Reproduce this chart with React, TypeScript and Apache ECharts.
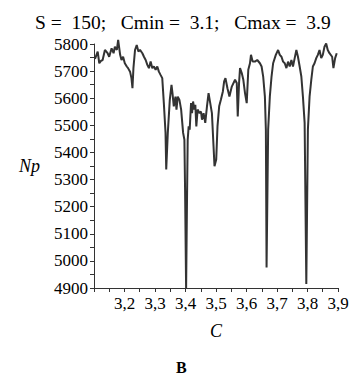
import React, { useEffect, useRef } from "react";
import * as echarts from "echarts";

const titleText = "S =  150;   Cmin =  3.1;   Cmax =  3.9";
const panelLabel = "B";
const xName = "C";
const yName = "Np";

const cValues = [
  3.1033, 3.1121, 3.1173, 3.1228, 3.1283, 3.1358, 3.1446, 3.1498, 3.1577, 3.1642,
  3.1684, 3.1749, 3.1792, 3.1857, 3.1902, 3.1954, 3.201, 3.2075, 3.2117, 3.2182,
  3.2228, 3.2261, 3.2293, 3.2345, 3.2401, 3.2456, 3.2508, 3.2586, 3.2638, 3.2694,
  3.2749, 3.2801, 3.2857, 3.2912, 3.2964, 3.302, 3.3075, 3.3127, 3.3182, 3.3238,
  3.329, 3.3345, 3.3368, 3.342, 3.3485, 3.3541, 3.3573, 3.3616, 3.3671, 3.3704,
  3.3746, 3.3801, 3.3857, 3.3922, 3.3964, 3.3987, 3.402, 3.4052, 3.4072, 3.4104,
  3.4137, 3.4182, 3.4215, 3.4248, 3.429, 3.4322, 3.4355, 3.4397, 3.4463, 3.4508,
  3.4541, 3.4593, 3.4648, 3.4704, 3.4756, 3.4811, 3.4866, 3.4919, 3.4951, 3.5007,
  3.5049, 3.5104, 3.516, 3.5225, 3.5267, 3.531, 3.5375, 3.544, 3.5518, 3.5625,
  3.5681, 3.5713, 3.5756, 3.5788, 3.5844, 3.5896, 3.5951, 3.6007, 3.6059, 3.6114,
  3.6147, 3.6202, 3.6277, 3.6352, 3.644, 3.6495, 3.6547, 3.6603, 3.6635, 3.6658,
  3.671, 3.6765, 3.6821, 3.6873, 3.6961, 3.7036, 3.7091, 3.7147, 3.7199, 3.7254,
  3.7309, 3.7362, 3.7417, 3.7472, 3.7524, 3.758, 3.7635, 3.7687, 3.7743, 3.7798,
  3.785, 3.7906, 3.7961, 3.8013, 3.8068, 3.8124, 3.8176, 3.8231, 3.8287, 3.8339,
  3.8394, 3.845, 3.8502, 3.8557, 3.8612, 3.8664, 3.872, 3.8808, 3.885, 3.8906,
  3.8958,
];

const npValues = [
  5745, 5772, 5729, 5738, 5741, 5778, 5766, 5753, 5784, 5766,
  5790, 5778, 5815, 5760, 5741, 5753, 5729, 5717, 5711, 5698,
  5674, 5637, 5711, 5778, 5796, 5772, 5778, 5766, 5753, 5741,
  5723, 5711, 5735, 5711, 5717, 5705, 5717, 5698, 5686, 5674,
  5582, 5473, 5337, 5473, 5594, 5649, 5619, 5570, 5606, 5558,
  5606, 5594, 5558, 5472, 5447, 5253, 4897, 5253, 5447, 5496,
  5484, 5582, 5545, 5588, 5558, 5576, 5496, 5558, 5545, 5551,
  5521, 5545, 5509, 5570, 5619, 5582, 5545, 5423, 5349, 5374,
  5496, 5570, 5594, 5625, 5662, 5674, 5637, 5606, 5643, 5668,
  5656, 5533, 5656, 5711, 5693, 5668, 5619, 5582, 5705, 5729,
  5760, 5735, 5735, 5741, 5729, 5717, 5680, 5606, 5484, 4976,
  5484, 5606, 5680, 5729, 5760, 5778, 5760, 5753, 5735, 5729,
  5711, 5735, 5717, 5741, 5717, 5748, 5778, 5753, 5717, 5680,
  5606, 5509, 4915, 5484, 5606, 5668, 5717, 5729, 5748, 5760,
  5778, 5748, 5760, 5790, 5802, 5778, 5766, 5753, 5711, 5748,
  5766,
];

const FONT = "Liberation Serif";

export default function App() {
  const ref = useRef<HTMLDivElement>(null);

  useEffect(() => {
    if (!ref.current) return;
    const chart = echarts.init(ref.current, undefined, { renderer: "svg" });
    const data = cValues.map((c, i) => [c, npValues[i]]);
    chart.setOption({
      animation: false,
      backgroundColor: "#ffffff",
      textStyle: { fontFamily: FONT },
      title: {
        text: titleText,
        left: 35,
        top: 12,
        padding: 0,
        textStyle: {
          fontFamily: FONT,
          fontSize: 19.5,
          fontWeight: "normal",
          color: "#000",
        },
      },
      grid: { left: 94, right: 16, top: 44, bottom: 90, containLabel: false },
      xAxis: {
        type: "value",
        min: 3.1,
        max: 3.9,
        interval: 0.1,
        name: xName,
        nameLocation: "middle",
        nameGap: 34,
        nameTextStyle: {
          fontFamily: FONT,
          fontSize: 18,
          fontStyle: "italic",
          color: "#000",
        },
        axisLine: { show: true, onZero: false, lineStyle: { color: "#333", width: 1 } },
        axisTick: { show: true, inside: false, length: 4, lineStyle: { color: "#333" } },
        minorTick: { show: true, splitNumber: 2, length: 4, lineStyle: { color: "#333" } },
        splitLine: { show: false },
        axisLabel: {
          fontFamily: FONT,
          fontSize: 17,
          color: "#000",
          margin: 7,
          formatter: (v: number) => (v < 3.15 ? "" : v.toFixed(1).replace(".", ",")),
        },
      },
      yAxis: {
        type: "value",
        min: 4900,
        max: 5800,
        interval: 100,
        name: yName,
        nameLocation: "middle",
        nameRotate: 0,
        nameGap: 54,
        nameTextStyle: {
          fontFamily: FONT,
          fontSize: 18,
          fontStyle: "italic",
          color: "#000",
        },
        axisLine: { show: true, onZero: false, lineStyle: { color: "#333", width: 1 } },
        axisTick: { show: true, inside: false, length: 4, lineStyle: { color: "#333" } },
        minorTick: { show: true, splitNumber: 2, length: 4, lineStyle: { color: "#333" } },
        splitLine: { show: false },
        axisLabel: {
          fontFamily: FONT,
          fontSize: 17,
          color: "#000",
          margin: 6,
          formatter: (v: number) => String(Math.round(v)),
        },
      },
      graphic: [
        {
          type: "text",
          left: 176,
          top: 359,
          style: {
            text: panelLabel,
            font: `bold 16px ${FONT}`,
            fill: "#000",
          },
        },
      ],
      series: [
        {
          type: "line",
          data,
          showSymbol: false,
          clip: false,
          lineStyle: { color: "#333", width: 2 },
        },
      ],
    });
    return () => chart.dispose();
  }, []);

  return (
    <div
      ref={ref}
      style={{ position: "fixed", left: 0, top: 0, width: 354, height: 378 }}
    />
  );
}
